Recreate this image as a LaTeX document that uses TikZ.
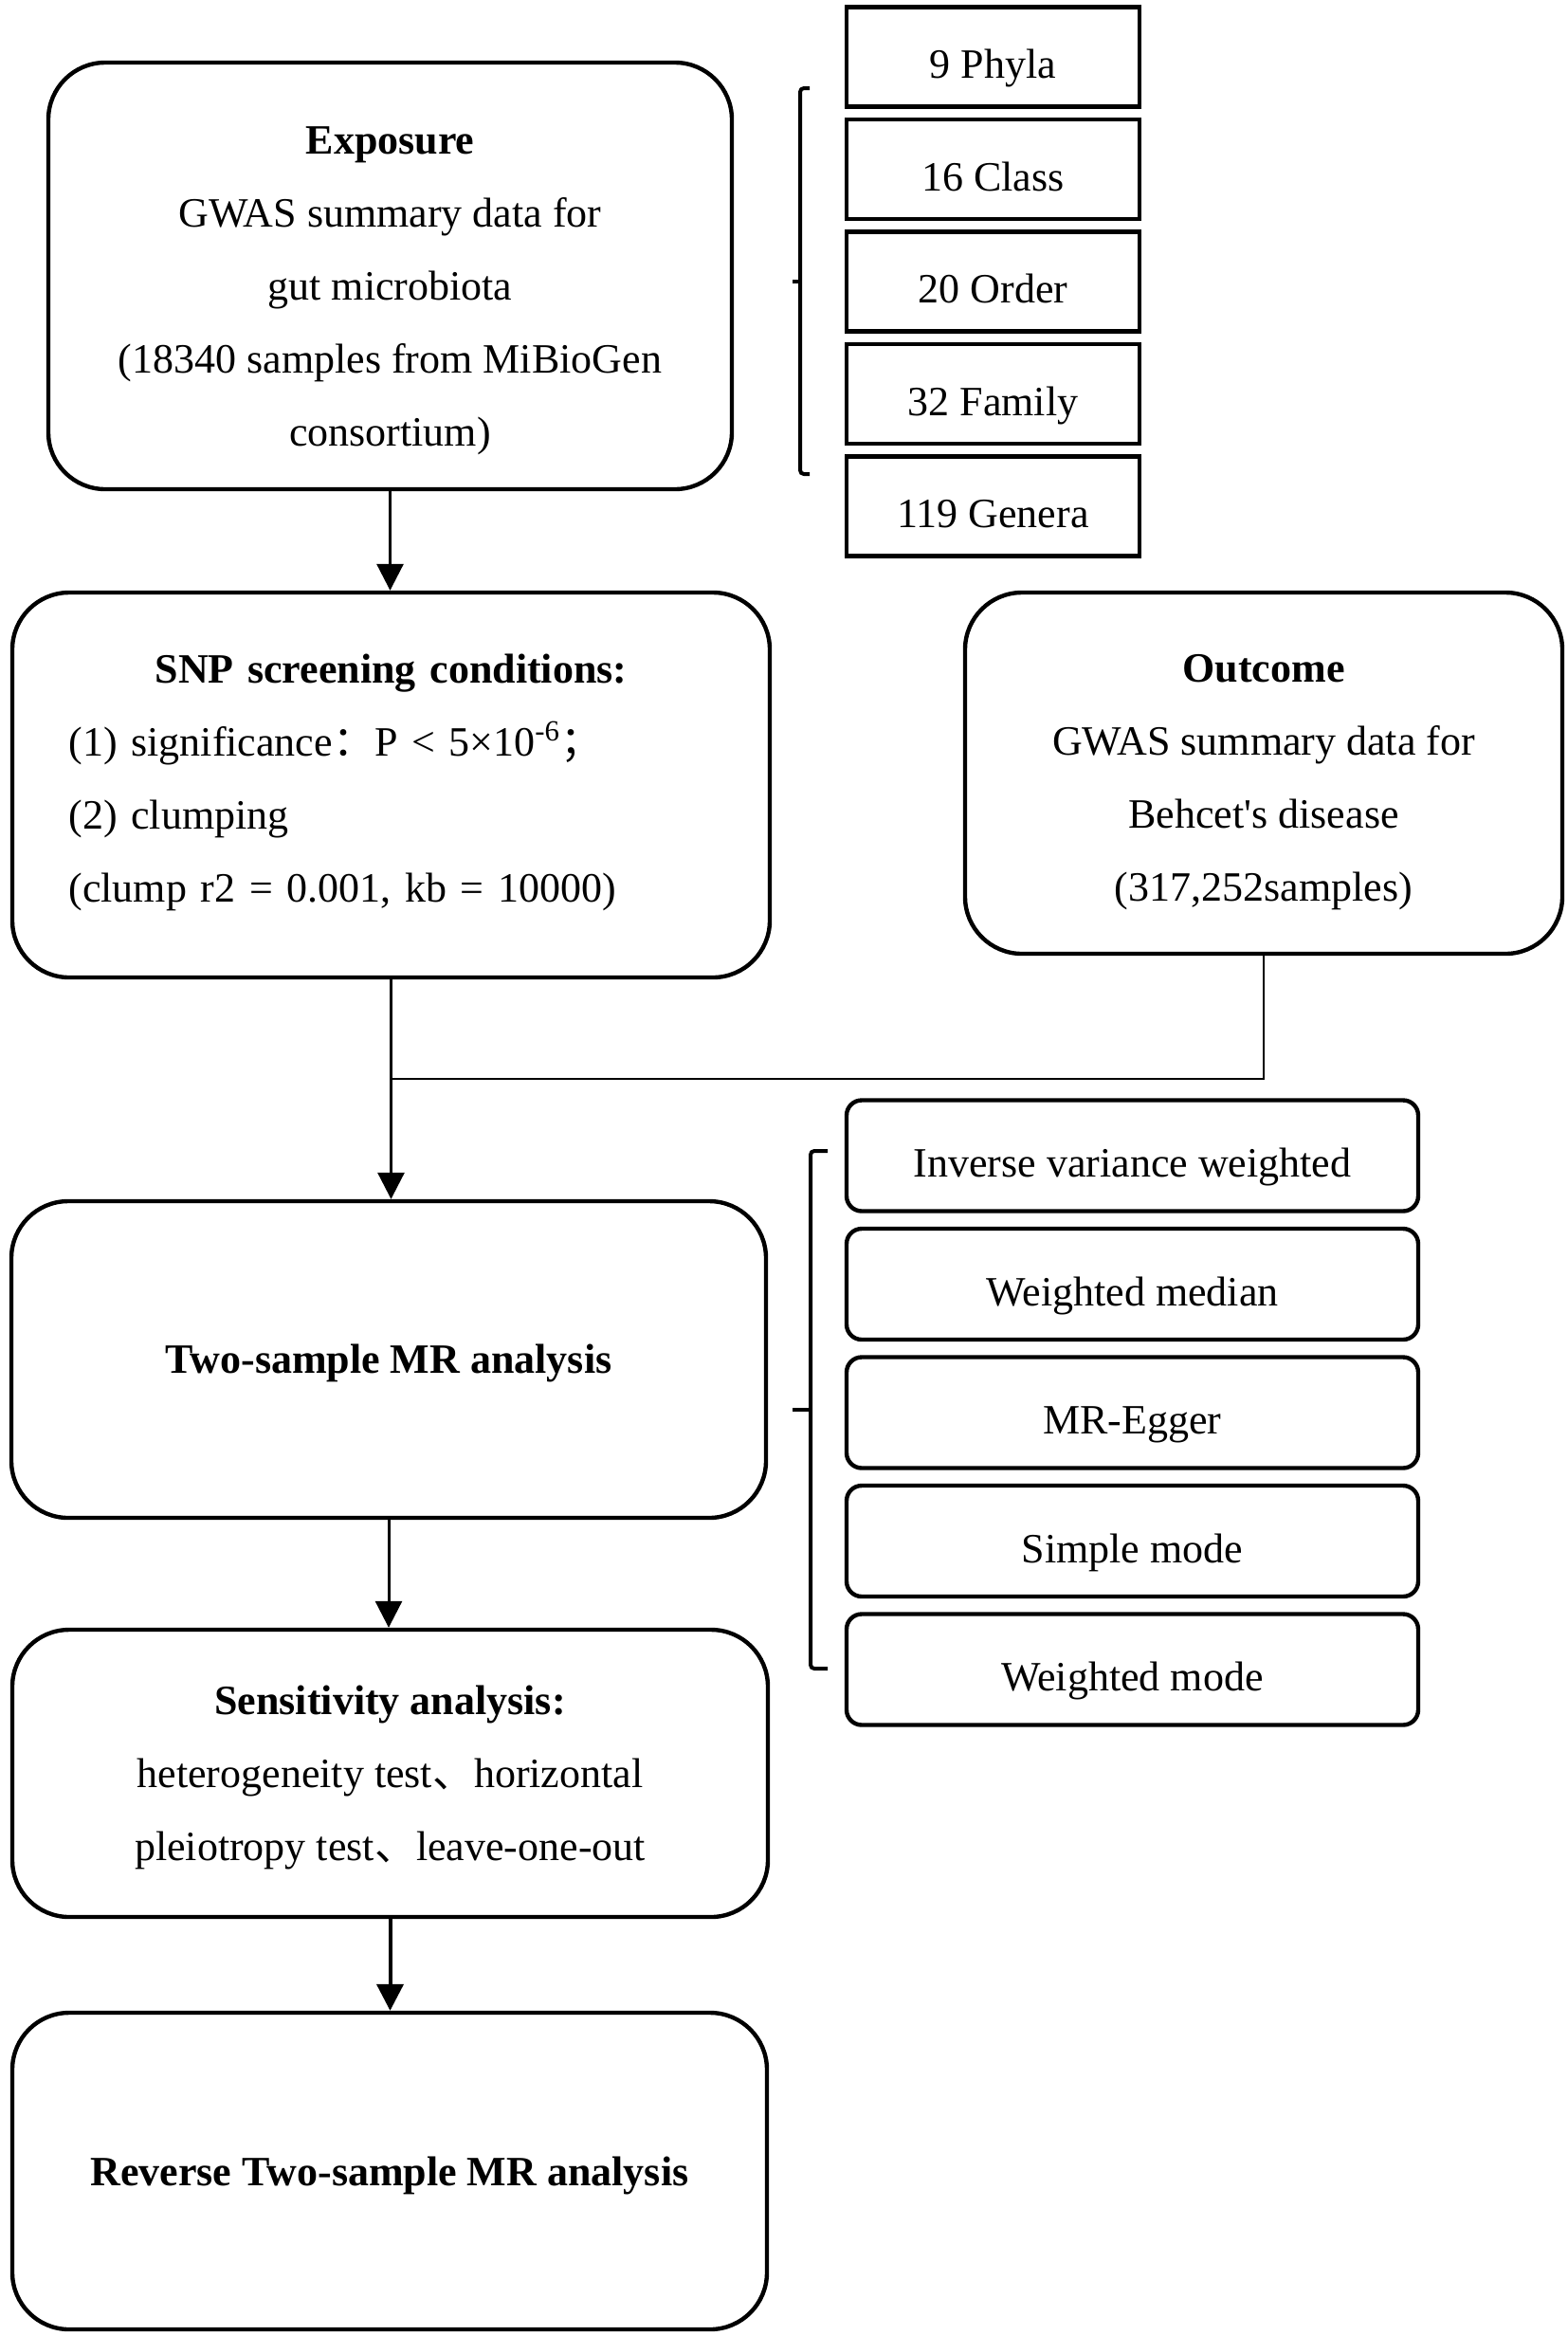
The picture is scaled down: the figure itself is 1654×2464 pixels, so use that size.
\documentclass[tikz,border=0pt]{standalone}
\usepackage{fontspec}
\setmainfont{Liberation Serif}
\newfontfamily\cjk{Noto Sans CJK SC}
\usetikzlibrary{positioning, arrows.meta}
\tikzset{
    riquadro/.style = {draw=black, line width=2.2pt, rounded corners=30pt, align=center, inner sep=0pt, text depth=5pt},
    tassone/.style = {draw=black, line width=2.2pt, minimum width=154.5pt, minimum height=52.5pt, inner sep=0pt, text height=22.5pt, text depth=0pt},
    metodo/.style = {draw=black, line width=2.2pt, rounded corners=8pt, minimum width=301.5pt, minimum height=58.5pt, inner sep=0pt, text height=22.5pt, text depth=0pt},
    freccia/.style = {line width=1.5pt, arrows = {-Triangle[length=14pt, width=14pt]}},
    collegamento/.style = {line width=1.2pt},
    parentesi/.style = {line width=2pt, rounded corners=2pt}
}

\begin{document}
\begin{tikzpicture}[
        x=0.5pt, y=-0.5pt,
        font=\fontsize{22}{38.5}\selectfont
    ]
    \useasboundingbox (0,0) rectangle (1654,2464);

    % colonna principale
    \node (expo) at (411.5,291) [riquadro, minimum width=360.5pt, minimum height=225pt, text height=184pt]
        {\textbf{Exposure}\\ GWAS summary data for\\ gut microbiota\\ (18340 samples from MiBioGen\\ consortium)};
    \node (snp) at (412.5,828) [riquadro, minimum width=399.5pt, minimum height=203pt, text width=340pt, align=left, text height=15pt, text depth=123pt]
        {\makebox[340pt][c]{\textbf{SNP screening conditions:}}\\
         (1) significance{\cjk ：}P < 5×10\textsuperscript{-6}{\cjk ；}\\
         (2) clumping\\
         (clump r2 = 0.001, kb = 10000)};
    \node (outc) at (1333,815.5) [riquadro, minimum width=315pt, minimum height=190.5pt, text height=139.5pt]
        {\textbf{Outcome}\\ GWAS summary data for\\ Behcet\textquotesingle s disease\\ (317,252samples)};
    \node (mr) at (410,1434) [riquadro, minimum width=398pt, minimum height=167pt, text height=14pt, text depth=0pt]
        {\textbf{Two-sample MR analysis}};
    \node (sens) at (411.5,1870.5) [riquadro, minimum width=398.5pt, minimum height=151.5pt, text height=96.5pt]
        {\textbf{Sensitivity analysis:}\\ heterogeneity test{\cjk 、}horizontal\\ pleiotropy test{\cjk 、}leave-one-out};
    \node (rev) at (411,2290) [riquadro, minimum width=398pt, minimum height=167pt, text height=15pt, text depth=0pt]
        {\textbf{Reverse Two-sample MR analysis}};

    % livelli tassonomici
    \foreach \nome [count=\i from 0] in {9 Phyla, 16 Class, 20 Order, 32 Family, 119 Genera}
        \node (tax\i) at (1047.5, 60+118.5*\i) [tassone] {\nome};

    % metodi MR
    \foreach \nome [count=\i from 0] in {Inverse variance weighted, Weighted median, MR-Egger, Simple mode, Weighted mode}
        \node (met\i) at (1194.5, 1219+135.5*\i) [metodo] {\nome};

    % collegamenti
    \path (snp.south) ++(0,105) coordinate (snodo);
    \draw[freccia] (expo.south) -- (expo.south |- snp.north);
    \draw[collegamento] (snp.south) -- (snodo);
    \draw[collegamento] (outc.south) |- (snodo);
    \draw[freccia] (snodo) -- (snodo |- mr.north);
    \draw[freccia] (mr.south) -- (mr.south |- sens.north);
    \draw[freccia, line width=2pt] (sens.south) -- (sens.south |- rev.north);

    % parentesi
    \draw[parentesi] (854,93) -- (844,93) -- (844,500) -- (854,500);
    \draw[parentesi] (844,297) -- (836,297);
    \draw[parentesi] (873,1214) -- (855,1214) -- (855,1760) -- (873,1760);
    \draw[parentesi] (855,1487) -- (836,1487);

\end{tikzpicture}
\end{document}
